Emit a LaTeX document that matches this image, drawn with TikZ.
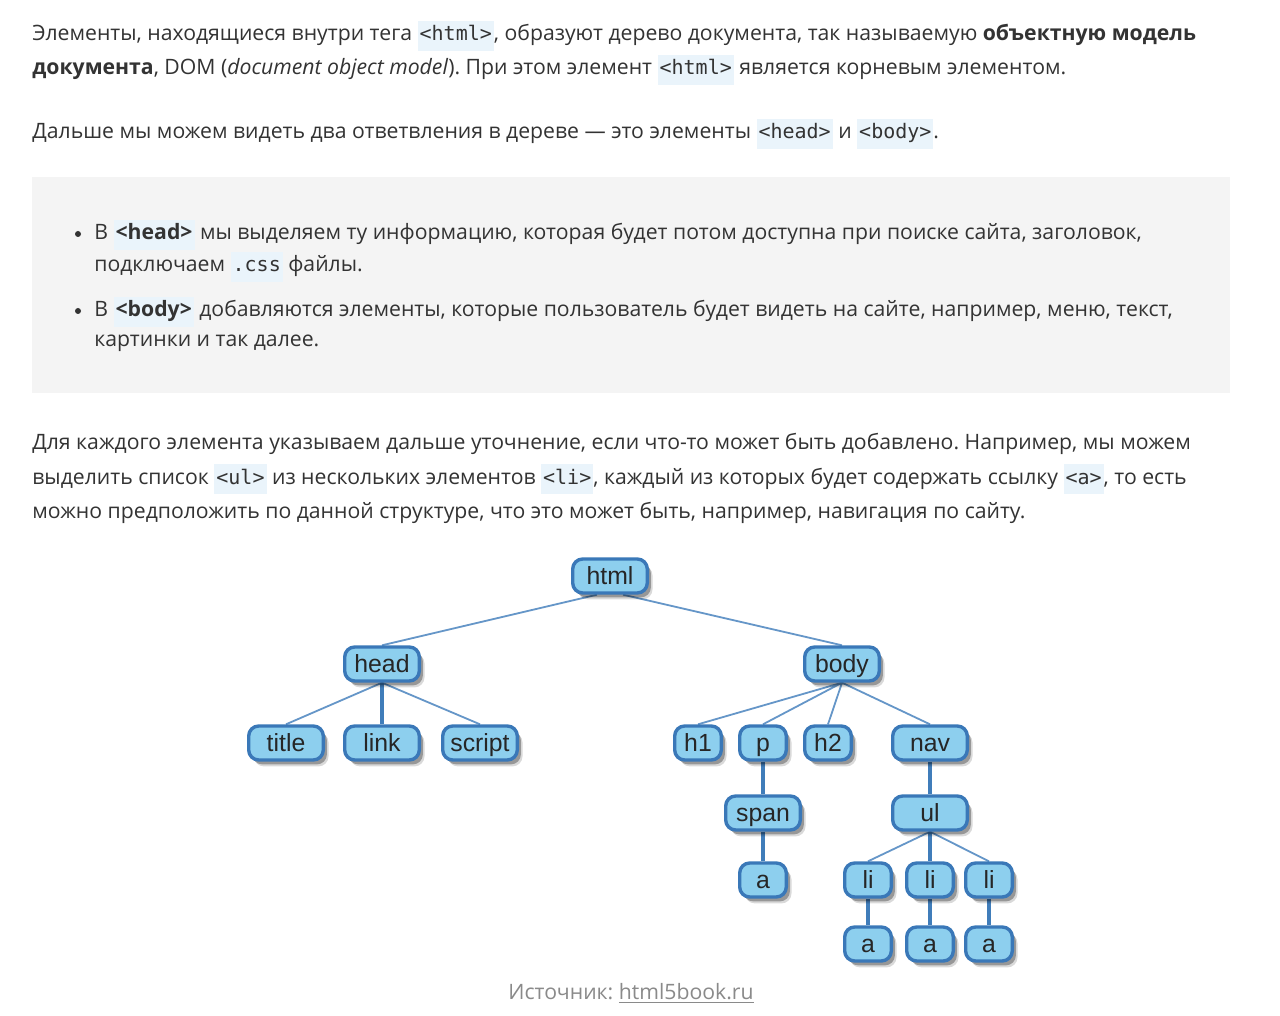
\documentclass[tikz,border=0pt]{standalone}
\usepackage{fontspec}
\setmainfont{Open Sans}
\newfontfamily\codefont{DejaVu Sans Mono}
\newfontfamily\treefont{Liberation Sans}
\usetikzlibrary{shadows}
\pgfdeclarelayer{paper}
\pgfdeclarelayer{edges}
\pgfsetlayers{paper,edges,main}
\frenchspacing
\definecolor{txt}{HTML}{333333}
\definecolor{codebg}{HTML}{EAF4FB}
\definecolor{notebg}{HTML}{F4F4F4}
\definecolor{tagfill}{HTML}{8DCFEE}
\definecolor{tagedge}{HTML}{3A78B8}
\definecolor{linkcol}{HTML}{6596C8}
\definecolor{srcgray}{HTML}{8A8A8A}
\newcommand{\tagc}[1]{{\setlength{\fboxsep}{1pt}\colorbox{codebg}{\codefont\fontsize{10}{12.6}\selectfont\strut #1}}}
\newcommand{\tagb}[1]{{\setlength{\fboxsep}{1pt}\colorbox{codebg}{\strut\textbf{#1}}}}
\begin{document}
\begin{tikzpicture}[x=0.5pt, y=-0.5pt, line cap=round, line join=round]
			\tikzset{line/.style={anchor=base west, inner sep=0pt, text=txt, font=\fontsize{10.6}{13.2}\selectfont},
				dot/.style={circle, fill=txt, inner sep=0pt, minimum size=3pt},
				tag/.style={draw=tagedge, line width=1.7pt, fill=tagfill, rounded corners=5pt, minimum height=17pt,
					minimum width=37.3pt, inner sep=0pt, text height=8.9pt, text depth=0pt,
					font=\treefont\fontsize{12.4}{14}\selectfont, text=black!85,
					general shadow={shadow xshift=2.6pt, shadow yshift=-3.2pt, fill=black, opacity=0.15},
					drop shadow={shadow xshift=1.8pt, shadow yshift=-2.2pt, fill=black, opacity=0.3}},
				small/.style={tag, minimum width=23.3pt},
				thin/.style={draw=linkcol, line width=0.9pt},
				thick/.style={draw=tagedge!85!linkcol, line width=2pt}}
			\begin{pgfonlayer}{paper}
			\fill[white] (0,0) rectangle (1280,1016);
			\fill[notebg] (32,177) rectangle (1230,393);
			\end{pgfonlayer}
			\useasboundingbox (0,0) rectangle (1280,1016);
			% text above the tree
			\node[line] (p1a) at (32,41) {Элементы, находящиеся внутри тега \tagc{<html>}, образуют дерево документа, так называемую \textbf{объектную модель}};
			\node[line] (p1b) at (32,75) {\textbf{документа}, DOM (\textit{document object model}). При этом элемент \tagc{<html>} является корневым элементом.};
			\node[line] (p2) at (32,139) {Дальше мы можем видеть два ответвления в дереве — это элементы \tagc{<head>} и \tagc{<body>}.};
			\node[dot] (dot1) at (78,234) {};
			\node[line] (b1a) at (94,240) {В \tagb{<head>} мы выделяем ту информацию, которая будет потом доступна при поиске сайта, заголовок,};
			\node[line] (b1b) at (94,272) {подключаем \tagc{.css} файлы.};
			\node[dot] (dot2) at (78,311) {};
			\node[line] (b2a) at (94,317) {В \tagb{<body>} добавляются элементы, которые пользователь будет видеть на сайте, например, меню, текст,};
			\node[line] (b2b) at (94,347) {картинки и так далее.};
			\node[line] (p3a) at (32,449) {Для каждого элемента указываем дальше уточнение, если что-то может быть добавлено. Например, мы можем};
			\node[line] (p3b) at (32,484) {выделить список \tagc{<ul>} из нескольких элементов \tagc{<li>}, каждый из которых будет содержать ссылку \tagc{<a>}, то есть};
			\node[line] (p3c) at (32,518) {можно предположить по данной структуре, что это может быть, например, навигация по сайту.};
			% the tree
			\node[tag] (html) at (610,576) {html};
			\node[tag] (head) at (382,664) {head};
			\node[tag] (body) at (842,664) {body};
			\node[tag] (title) at (286,743) {title};
			\node[tag] (link) at (382,743) {link};
			\node[tag] (script) at (480,743) {script};
			\node[small] (h1) at (698,743) {h1};
			\node[small] (p) at (763,743) {p};
			\node[small] (h2) at (828,743) {h2};
			\node[tag] (nav) at (930,743) {nav};
			\node[tag] (span) at (763,813) {span};
			\node[tag] (ul) at (930,813) {ul};
			\node[small] (spana) at (763,880) {a};
			\node[small] (li1) at (868,880) {li};
			\node[small] (li2) at (930,880) {li};
			\node[small] (li3) at (989,880) {li};
			\node[small] (lia1) at (868,944) {a};
			\node[small] (lia2) at (930,944) {a};
			\node[small] (lia3) at (989,944) {a};
			\begin{pgfonlayer}{edges}
			\draw[thin] (html.-125)--(head.north) (html.-55)--(body.north);
			\draw[thin] (head.south)--(title.north) (head.south)--(script.north);
			\draw[thick] (head.south)--(link.north);
			\draw[thin] (body.south)--(h1.north) (body.south)--(p.north) (body.south)--(h2.north) (body.south)--(nav.north);
			\draw[thick] (p.south)--(span.north) (span.south)--(spana.north) (nav.south)--(ul.north);
			\draw[thin] (ul.south)--(li1.north) (ul.south)--(li3.north);
			\draw[thick] (ul.south)--(li2.north);
			\foreach \n in {1,2,3}
				\draw[thick] (li\n.south)--(lia\n.north);
			\end{pgfonlayer}
			\node[anchor=base, inner sep=0pt, text=srcgray, font=\fontsize{10.6}{13.2}\selectfont] (src) at (631,999) {Источник: \underline{html5book.ru}};
	\end{tikzpicture}
\end{document}
